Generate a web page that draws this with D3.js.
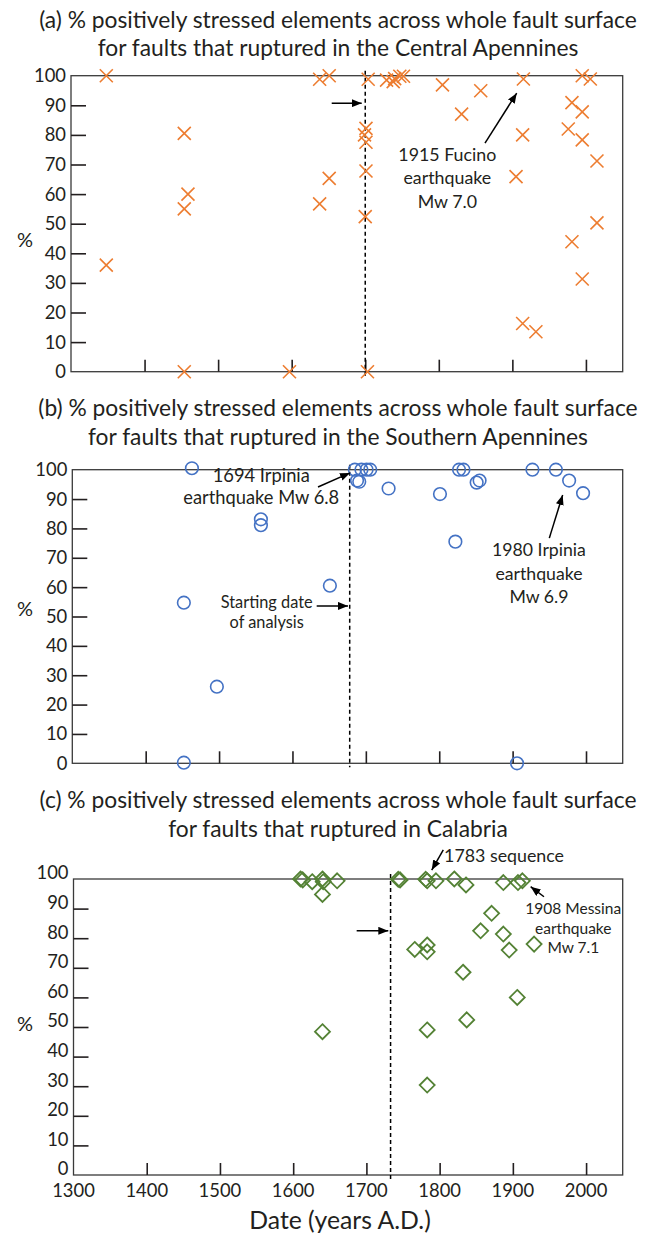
<!DOCTYPE html>
<html><head><meta charset="utf-8">
<script src="https://cdn.jsdelivr.net/npm/d3@7"></script>
<style>
body{margin:0;background:#fff}
svg{display:block}
text{font-family:Lato,"Open Sans",sans-serif;fill:#231f20}
</style>
</head><body>
<svg id="chart" width="646" height="1239"></svg>
<script>
// ---------- data ----------
const yearTicks = [1300,1400,1500,1600,1700,1800,1900,2000];
const pctTicks = [0,10,20,30,40,50,60,70,80,90,100];

const centralYear = [1348,1348,1454,1459,1454,1454,1597,1638,1651,1651,1638,1704,1701,1699,1701,1701,1700,1703,1729,1738,1740,1747,1752,1805,1831,1857,1915,1914,1905,1914,1932,1995,2006,1981,1995,1976,1995,2015,2015,1981,1995];
const centralPct  = [100,36,80.5,60,55,0,0,98.8,100,65.3,56.7,98.8,82.2,80,77.5,67.8,52.4,0,98.5,98,99,99.8,99.8,96.9,87,94.9,98.9,80,65.9,16.3,13.5,100,98.9,90.9,87.8,82,78.3,71.2,50.3,43.9,31.3];

const southernYear = [1463,1557,1557,1651,1452,1497,1452,1685,1688,1694,1701,1706,1691,1731,1801,1822,1827,1833,1851,1855,1927,1959,1977,1996,1906];
const southernPct  = [100.5,83.1,81.1,60.5,54.7,26.1,0.2,100,96.3,100,100,100,95.9,93.6,91.7,75.5,100,100,95.6,96.3,100,100,96.3,92,0];

const calabriaYear = [1610,1613,1626,1640,1641,1640,1660,1640,1743.5,1746,1781,1783,1795,1820,1836,1887,1907,1913,1871,1856,1887,1895,1929,1766,1783,1783,1832,1906,1837,1783,1783];
const calabriaPct  = [100,99.7,99.1,100,99.1,94.8,99.4,48.4,99.9,99.7,99.9,99.4,99.4,100,98,98.8,98.8,99.4,88.4,82.5,81.4,76,78,76.2,77.7,75.4,68.5,60,52.4,49,30.4];

const startYears = [1700,1678,1733];
const titleLines = [
  ["(a) % positively stressed elements across whole fault surface","for faults that ruptured in the Central Apennines"],
  ["(b) % positively stressed elements across whole fault surface","for faults that ruptured in the Southern Apennines"],
  ["(c) % positively stressed elements across whole fault surface","for faults that ruptured in Calabria"]
];
const xAxisTitle = "Date (years A.D.)";
const yAxisTitle = "%";

// ---------- layout ----------
const svg = d3.select("#chart");

function fitSize(str, target, base){
  const t = svg.append("text").attr("font-size", base).text(str);
  const w = t.node().getComputedTextLength();
  t.remove();
  return base * target / w;
}

const defs = svg.append("defs");
defs.append("marker").attr("id","arr")
  .attr("viewBox","0 0 10 8").attr("refX",10).attr("refY",4)
  .attr("markerWidth",10).attr("markerHeight",8)
  .attr("markerUnits","userSpaceOnUse").attr("orient","auto")
  .append("path").attr("d","M0,0L10,4L0,8Z").attr("fill","#000");

const titleSize = fitSize(titleLines[0][0], 598, 20);
const tickSize = fitSize("1300", 42.7, 18);

const panels = [
  {years:centralYear, pct:centralPct, marker:"x", color:"#ED7D31",
   left:71, right:622.7, top:75.7, bottom:371.7, titleY:[28,56], labelDy:0, xLabels:false, pctAt:44.5,
   notes:[{lines:["1915 Fucino","earthquake","Mw 7.0"], at:[1811.6,71.2], lh:23.3, fit:[0,98]}],
   arrows:[[[1862.8,77.2],[1905.9,94.1]], [[1654.4,90.7],[1695.2,90.7]]]},
  {years:southernYear, pct:southernPct, marker:"o", color:"#4472C4",
   left:72.3, right:622.7, top:469.7, bottom:763.3, titleY:[416,445], labelDy:0, xLabels:false, pctAt:52.5,
   notes:[{lines:["1694 Irpinia","earthquake Mw 6.8"], at:[1557.5,95.9], lh:22.3, fit:[1,156]},
          {lines:["Starting date","of analysis"], at:[1564.9,52.9], lh:20, fit:[0,92]},
          {lines:["1980 Irpinia","earthquake","Mw 6.9"], at:[1935.9,70.6], lh:23.5, fit:[0,94]}],
   arrows:[[[1634.8,94.1],[1678.4,98.9]], [[1633,53.6],[1675.7,53.6]], [[1950,76.7],[1968.2,91.4]]]},
  {years:calabriaYear, pct:calabriaPct, marker:"d", color:"#548235",
   left:73.5, right:622.7, top:879, bottom:1175, titleY:[808,837], labelDy:-6, xLabels:true, pctAt:51,
   notes:[{lines:["1783 sequence"], at:[1888,105.8], lh:20, fit:[0,120]},
          {lines:["1908 Messina","earthquake","Mw 7.1"], at:[1982.5,88.2], lh:19.7, fit:[0,96]}],
   arrows:[[[1805,109.8],[1789.2,103]], [[1942.5,94],[1924.3,97.4]], [[1686.7,82.5],[1729.9,82.5]]]}
];

panels.forEach((p, i) => {
  const x = d3.scaleLinear().domain([1300,2050]).range([p.left, p.right]);
  const y = d3.scaleLinear().domain([0,100]).range([p.bottom, p.top]);
  const g = svg.append("g");

  // title
  titleLines[i].forEach((s, k) => {
    g.append("text").attr("x", 338).attr("y", p.titleY[k])
      .attr("text-anchor","middle").attr("font-size", titleSize).text(s);
  });

  // frame
  g.append("rect").attr("x", p.left).attr("y", p.top)
    .attr("width", p.right - p.left).attr("height", p.bottom - p.top)
    .attr("fill","none").attr("stroke","#3a3a3a").attr("stroke-width",1.3);

  // y axis (inner ticks)
  const yAx = d3.axisRight(y).tickValues(pctTicks.filter(v => v > 0 && v < 100))
    .tickSize(15).tickFormat("");
  g.append("g").attr("transform",`translate(${p.left},0)`).call(yAx)
    .call(a => a.select(".domain").remove())
    .call(a => a.selectAll("line").attr("stroke","#231f20").attr("stroke-width",1.6));
  g.append("g").selectAll("text").data(pctTicks).join("text")
    .attr("x", p.left - 5).attr("y", d => y(d) + p.labelDy)
    .attr("dy","0.35em").attr("text-anchor","end").attr("font-size", tickSize)
    .text(d => d);

  // x axis (inner ticks)
  const xAx = d3.axisTop(x).tickValues(yearTicks.filter(v => v > 1300))
    .tickSize(12).tickFormat("");
  g.append("g").attr("transform",`translate(0,${p.bottom})`).call(xAx)
    .call(a => a.select(".domain").remove())
    .call(a => a.selectAll("line").attr("stroke","#231f20").attr("stroke-width",1.6));
  if (p.xLabels) {
    g.append("g").selectAll("text").data(yearTicks).join("text")
      .attr("x", d => x(d)).attr("y", p.bottom + 22)
      .attr("text-anchor","middle").attr("font-size", tickSize).text(d => d);
    g.append("text").attr("x", 340).attr("y", 1229).attr("text-anchor","middle")
      .attr("font-size", fitSize(xAxisTitle, 181.5, 20)).text(xAxisTitle);
  }

  // y title
  g.append("text").attr("x", 25).attr("y", y(p.pctAt))
    .attr("dy","0.35em").attr("text-anchor","middle").attr("font-size", 20).text(yAxisTitle);

  // start-of-analysis dashed line
  g.append("line").attr("x1", x(startYears[i])).attr("x2", x(startYears[i]))
    .attr("y1", p.top - 5).attr("y2", p.bottom + 4)
    .attr("stroke","#000").attr("stroke-width",1.5).attr("stroke-dasharray","4,3");

  // points
  const data = p.years.map((yr, k) => ({yr, v: p.pct[k]}));
  const pts = g.append("g");
  if (p.marker === "x") {
    pts.selectAll("path").data(data).join("path")
      .attr("transform", d => `translate(${x(d.yr)},${y(d.v)})`)
      .attr("d","M-6.5,-6.5L6.5,6.5M-6.5,6.5L6.5,-6.5")
      .attr("stroke", p.color).attr("stroke-width",1.6).attr("fill","none");
  } else if (p.marker === "o") {
    pts.selectAll("circle").data(data).join("circle")
      .attr("cx", d => x(d.yr)).attr("cy", d => y(d.v)).attr("r", 6.3)
      .attr("stroke", p.color).attr("stroke-width",1.6).attr("fill","none");
  } else {
    pts.selectAll("path").data(data).join("path")
      .attr("transform", d => `translate(${x(d.yr)},${y(d.v)})`)
      .attr("d","M0,-7.5L7.5,0L0,7.5L-7.5,0Z")
      .attr("stroke", p.color).attr("stroke-width",1.8).attr("fill","none");
  }

  // annotations
  p.notes.forEach(n => {
    const fs = fitSize(n.lines[n.fit[0]], n.fit[1], 15);
    n.lines.forEach((s, k) => {
      g.append("text").attr("x", x(n.at[0])).attr("y", y(n.at[1]) + k * n.lh)
        .attr("text-anchor","middle").attr("font-size", fs).text(s);
    });
  });
  p.arrows.forEach(a => {
    g.append("line")
      .attr("x1", x(a[0][0])).attr("y1", y(a[0][1]))
      .attr("x2", x(a[1][0])).attr("y2", y(a[1][1]))
      .attr("stroke","#000").attr("stroke-width",1.5).attr("marker-end","url(#arr)");
  });
});
</script>
</body></html>
